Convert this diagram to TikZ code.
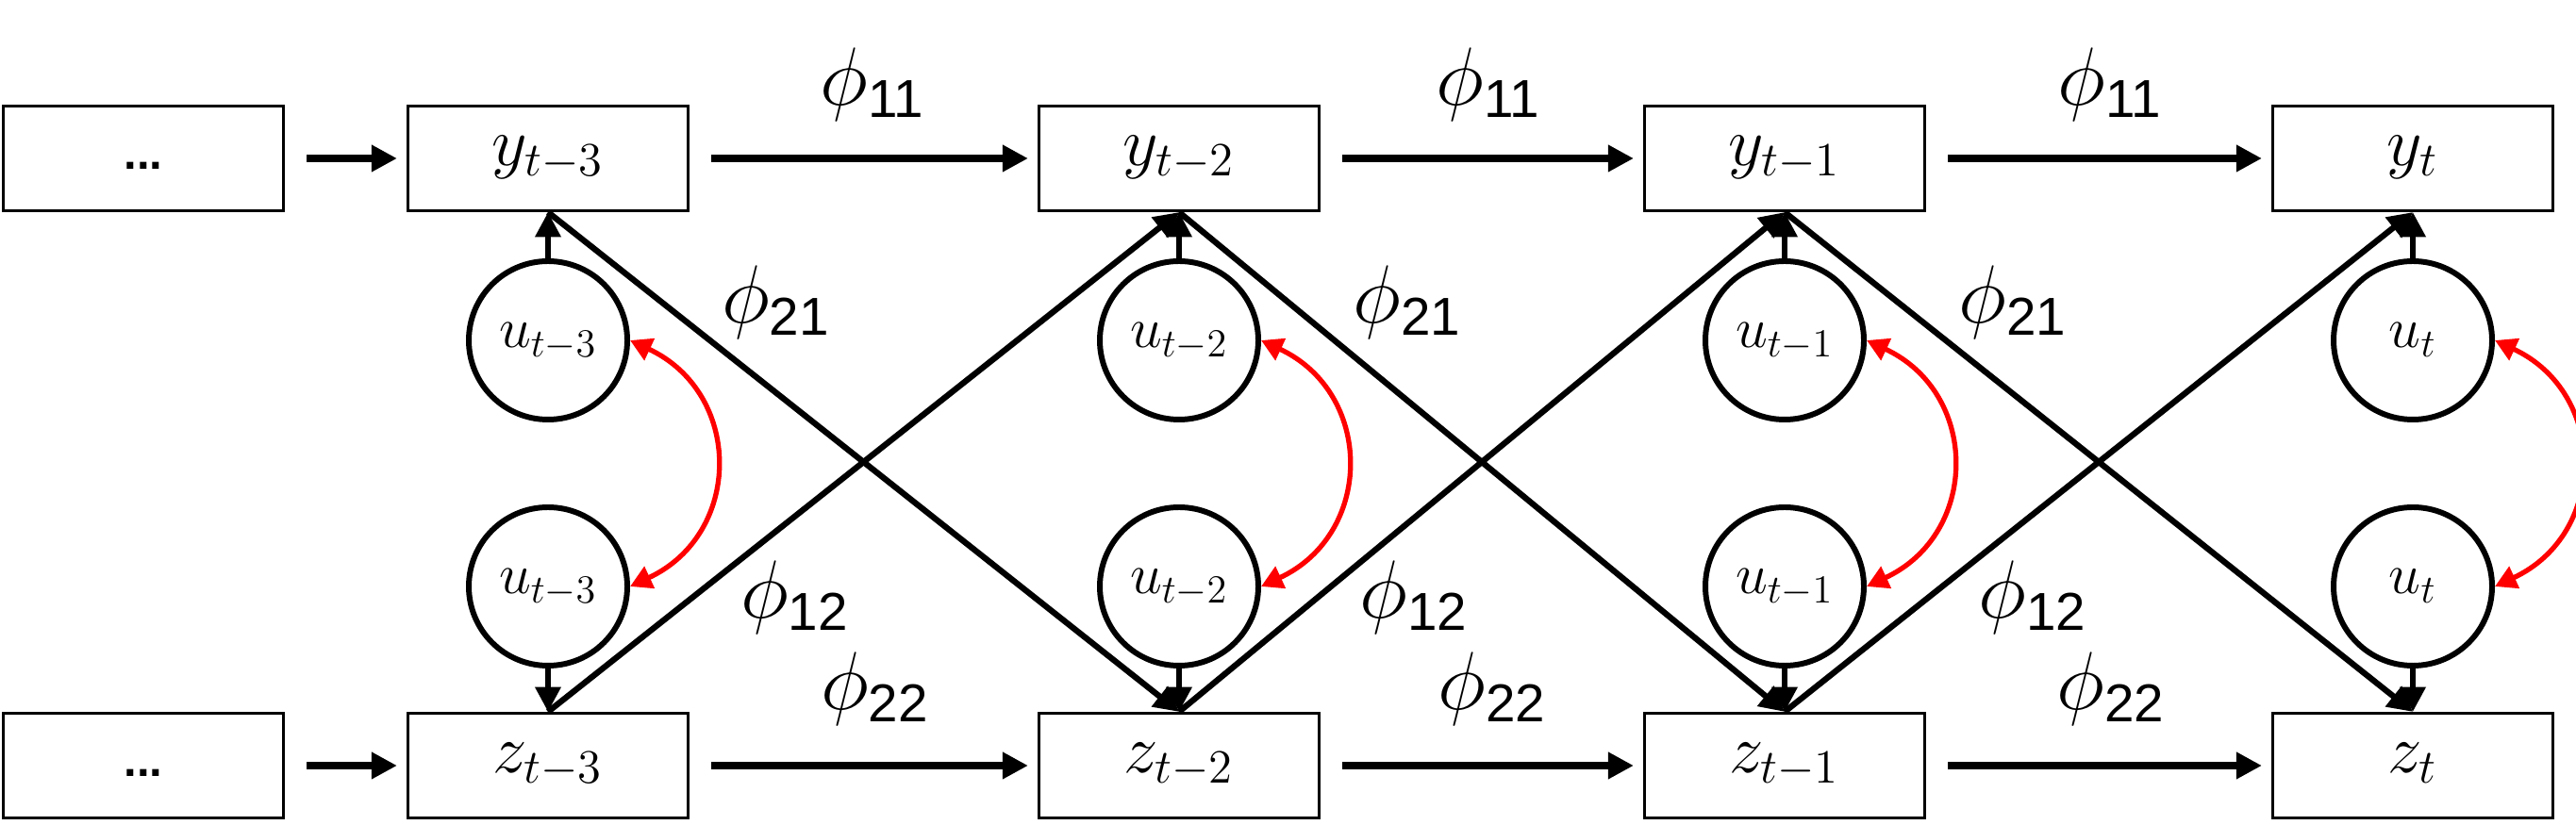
\documentclass[tikz,border=0pt]{standalone}
\usepackage{amsmath}
\usepackage{fontspec}
\setmainfont{Liberation Sans}
\usetikzlibrary{arrows.meta,positioning}

\tikzset{
 varbox/.style={draw,line width=0.9pt,minimum width=2.97cm,minimum height=1.11cm,inner sep=0pt,
   text height=0.7em,text depth=0.25em,font=\fontsize{20}{24}\selectfont},
 pastbox/.style={varbox,text height=0.8em,text depth=0.15em},
 shock/.style={circle,draw,line width=1.7pt,minimum size=1.68cm,inner sep=0pt,
   text height=0.7em,text depth=0.25em,font=\fontsize{17}{20}\selectfont},
 lagarrow/.style={line width=2.2pt,-{Triangle[length=7.7pt,width=7.7pt]},shorten <=0.23cm,shorten >=0.1cm},
 crossarrow/.style={line width=1.8pt,-{Triangle[length=7.5pt,width=7.5pt]}},
 uarrow/.style={line width=1.7pt,-{Triangle[length=7.5pt,width=7.5pt]}},
 corrarrow/.style={red,line width=1.5pt,{Triangle[length=6.5pt,width=7pt]}-{Triangle[length=6.5pt,width=7pt]}},
 coef/.style={font=\fontsize{23}{28}\selectfont,inner sep=0pt},
}

\begin{document}
\begin{tikzpicture}
\useasboundingbox (0,0) rectangle (27.31,8.75);
%\draw[help lines] (0,0) grid (27,8);

% top row
\node[pastbox] (pastY) at (1.52,7.07) {\fontsize{14}{16}\selectfont\textbf{...}};
\node[varbox] (y3) at (5.81,7.07) {$y_{t-3}$};
\node[varbox] (y2) at (12.50,7.07) {$y_{t-2}$};
\node[varbox] (y1) at (18.92,7.07) {$y_{t-1}$};
\node[varbox] (y0) at (25.58,7.07) {$y_{t}$};

% bottom row
\node[pastbox] (pastZ) at (1.52,0.63) {\fontsize{14}{16}\selectfont\textbf{...}};
\node[varbox] (z3) at (5.81,0.63) {$z_{t-3}$};
\node[varbox] (z2) at (12.50,0.63) {$z_{t-2}$};
\node[varbox] (z1) at (18.92,0.63) {$z_{t-1}$};
\node[varbox] (z0) at (25.58,0.63) {$z_{t}$};

% shocks
\node[shock] (uy3) at (5.81,5.14) {$u_{t-3}$};
\node[shock] (uz3) at (5.81,2.53) {$u_{t-3}$};
\node[shock] (uy2) at (12.50,5.14) {$u_{t-2}$};
\node[shock] (uz2) at (12.50,2.53) {$u_{t-2}$};
\node[shock] (uy1) at (18.92,5.14) {$u_{t-1}$};
\node[shock] (uz1) at (18.92,2.53) {$u_{t-1}$};
\node[shock] (uy0) at (25.58,5.14) {$u_{t}$};
\node[shock] (uz0) at (25.58,2.53) {$u_{t}$};

\draw[lagarrow] (pastY.east)--(y3.west);
\draw[lagarrow] (y3.east)--(y2.west);
\draw[lagarrow] (y2.east)--(y1.west);
\draw[lagarrow] (y1.east)--(y0.west);
\draw[lagarrow] (pastZ.east)--(z3.west);
\draw[lagarrow] (z3.east)--(z2.west);
\draw[lagarrow] (z2.east)--(z1.west);
\draw[lagarrow] (z1.east)--(z0.west);

\draw[crossarrow] (y3.south)--(z2.north);
\draw[crossarrow] (z3.north)--(y2.south);
\draw[crossarrow] (y2.south)--(z1.north);
\draw[crossarrow] (z2.north)--(y1.south);
\draw[crossarrow] (y1.south)--(z0.north);
\draw[crossarrow] (z1.north)--(y0.south);

\draw[uarrow] (uy3)--(y3);
\draw[uarrow] (uz3)--(z3);
\draw[uarrow] (uy2)--(y2);
\draw[uarrow] (uz2)--(z2);
\draw[uarrow] (uy1)--(y1);
\draw[uarrow] (uz1)--(z1);
\draw[uarrow] (uy0)--(y0);
\draw[uarrow] (uz0)--(z0);

\draw[corrarrow] (uy3.east) to[out=-25,in=25,looseness=1.3] (uz3.east);
\draw[corrarrow] (uy2.east) to[out=-25,in=25,looseness=1.3] (uz2.east);
\draw[corrarrow] (uy1.east) to[out=-25,in=25,looseness=1.3] (uz1.east);
\draw[corrarrow] (uy0.east) to[out=-25,in=25,looseness=1.3] (uz0.east);

% coefficients
\node[coef] (a11) at (9.25,7.85) {$\phi_{\text{11}}$};
\node[coef] (b11) at (15.78,7.85) {$\phi_{\text{11}}$};
\node[coef] (c11) at (22.37,7.85) {$\phi_{\text{11}}$};
\node[coef] (a21) at (8.23,5.54) {$\phi_{\text{21}}$};
\node[coef] (b21) at (14.92,5.54) {$\phi_{\text{21}}$};
\node[coef] (c21) at (21.34,5.54) {$\phi_{\text{21}}$};
\node[coef] (a12) at (8.43,2.41) {$\phi_{\text{12}}$};
\node[coef] (b12) at (14.99,2.41) {$\phi_{\text{12}}$};
\node[coef] (c12) at (21.55,2.41) {$\phi_{\text{12}}$};
\node[coef] (a22) at (9.28,1.44) {$\phi_{\text{22}}$};
\node[coef] (b22) at (15.82,1.44) {$\phi_{\text{22}}$};
\node[coef] (c22) at (22.38,1.44) {$\phi_{\text{22}}$};
\end{tikzpicture}
\end{document}
